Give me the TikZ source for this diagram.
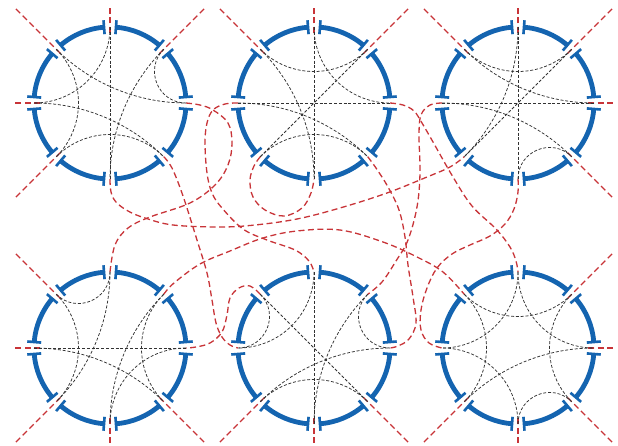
\documentclass[tikz,border=0pt]{standalone}
\usetikzlibrary{calc}
\definecolor{cblue}{RGB}{20,100,176}
\definecolor{cred}{RGB}{200,52,56}
\definecolor{cblk}{RGB}{50,50,50}
\tikzset{
  ring/.style={cblue, line width=4.8pt},
  tickbar/.style={cblue, line width=2.6pt},
  redl/.style={cred, line width=1.3pt, dash pattern=on 6pt off 3.5pt},
  blkl/.style={cblk, line width=0.75pt, dash pattern=on 3pt off 1.8pt},
}
\newcommand\geo[3]{%
  \pgfmathsetmacro\gdif{abs(#2-#3)}%
  \pgfmathsetmacro\gdif{\gdif>180 ? 360-\gdif : \gdif}%
  \pgfmathsetmacro\gfac{\gdif<50 ? 0.369 : (\gdif<100 ? 0.552 : (\gdif<150 ? 0.640 : 0.667))}%
  \draw[blkl] (#1-#2) .. controls ($(#1-#2)!\gfac!(#1)$) and ($(#1-#3)!\gfac!(#1)$) .. (#1-#3);%
}
\newcommand\outl[3]{%
  \coordinate (#1-#2-o) at ($(#1)+(-#2:#3)$);%
  \draw[redl, shorten <=-6pt] (#1-#2) -- (#1-#2-o);%
}
\begin{document}
\begin{tikzpicture}[x=1pt,y=-1pt]
\useasboundingbox (0,0) rectangle (618,446);
\coordinate (c1) at (110,103);
\coordinate (c2) at (314,103);
\coordinate (c3) at (518,103);
\coordinate (c4) at (110,348);
\coordinate (c5) at (314,348);
\coordinate (c6) at (518,348);
\foreach \c in {c1,c2,c3,c4,c5,c6}{
  \foreach \a in {0,45,...,315}{
    \coordinate (\c-\a) at ($(\c)+(-\a:76)$);
  }
}
% straight outer red lines
\outl{c1}{135}{134} \outl{c1}{90}{95} \outl{c1}{45}{134} \outl{c1}{180}{95} \outl{c1}{225}{134}
\outl{c2}{135}{134} \outl{c2}{90}{95} \outl{c2}{45}{134}
\outl{c3}{135}{134} \outl{c3}{90}{95} \outl{c3}{45}{134} \outl{c3}{0}{95} \outl{c3}{315}{134}
\outl{c4}{135}{134} \outl{c4}{180}{95} \outl{c4}{225}{134} \outl{c4}{270}{95} \outl{c4}{315}{134}
\outl{c5}{225}{134} \outl{c5}{270}{95} \outl{c5}{315}{134}
\outl{c6}{45}{134} \outl{c6}{0}{95} \outl{c6}{315}{134} \outl{c6}{270}{95} \outl{c6}{225}{134}
% red connecting curves
\begin{scope}[redl]
\draw plot[smooth, tension=0.6] coordinates {(c1-0) (200,105) (213,110) (228,123) (232,143) (228,165) (215,185) (190,203) (150,217) (128,228) (115,245) (c4-90)};
\draw plot[smooth, tension=0.6] coordinates {(c2-180) (225,104) (213,110) (207,123) (205,143) (207,173) (212,193) (222,208) (243,229) (267,240) (295,250) (309,261) (c5-90)};
\draw plot[smooth, tension=0.6] coordinates {(c2-225) (254,166) (250,180) (253,197) (265,210) (284,216) (302,208) (311,193) (c2-270)};
\draw plot[smooth, tension=0.6] coordinates {(c2-315) (376,168) (388,187) (399,210) (405,237) (408,265) (413,297) (416,323) (409,339) (398,346) (c5-0)};
\draw plot[smooth, tension=0.6] coordinates {(c2-0) (403,105) (414,111) (422,123) (433,142) (453,177) (472,206) (496,229) (510,247) (516,261) (c6-90)};
\draw plot[smooth, tension=0.6] coordinates {(c3-180) (430,105) (421,115) (419,135) (420,173) (417,207) (408,240) (396,261) (382,282) (c5-45)};
\draw plot[smooth, tension=0.6] coordinates {(c3-270) (518,192) (514,209) (505,224) (490,236) (470,245) (452,254) (437,268) (427,288) (421,310) (421,330) (429,343) (c6-180)};
\draw plot[smooth, tension=0.6] coordinates {(c1-270) (111,192) (116,202) (128,211) (145,218) (173,225) (220,227) (255,225) (297,219) (340,208) (387,193) (427,177) (450,167) (c3-225)};
\draw plot[smooth, tension=0.6] coordinates {(c4-45) (174,283) (200,264) (230,251) (263,238) (297,231) (340,230) (383,242) (417,257) (443,272) (c6-135)};
\draw plot[smooth, tension=0.6] coordinates {(c1-315) (172,168) (183,196) (197,240) (207,273) (212,300) (216,323) (222,337) (230,345) (c5-180)};
\draw plot[smooth, tension=0.6] coordinates {(c5-135) (250,286) (239,288) (230,298) (227,315) (222,332) (210,343) (196,347) (c4-0)};
\end{scope}
% black geodesics
\geo{c1}{135}{225} \geo{c1}{45}{0} \geo{c1}{225}{315} \geo{c1}{135}{0}
\geo{c1}{180}{315} \geo{c1}{90}{180} \geo{c1}{45}{270} \geo{c1}{90}{270}
\geo{c2}{135}{45} \geo{c2}{225}{315} \geo{c2}{90}{0} \geo{c2}{90}{270}
\geo{c2}{135}{270} \geo{c2}{45}{225} \geo{c2}{180}{315} \geo{c2}{180}{0}
\geo{c3}{135}{45} \geo{c3}{135}{0} \geo{c3}{180}{0} \geo{c3}{180}{315}
\geo{c3}{90}{270} \geo{c3}{90}{225} \geo{c3}{45}{225} \geo{c3}{270}{315}
\geo{c4}{135}{90} \geo{c4}{180}{0} \geo{c4}{180}{315} \geo{c4}{135}{225}
\geo{c4}{90}{225} \geo{c4}{45}{270} \geo{c4}{45}{315} \geo{c4}{0}{270}
\geo{c5}{135}{180} \geo{c5}{45}{0} \geo{c5}{90}{270} \geo{c5}{90}{180}
\geo{c5}{135}{315} \geo{c5}{45}{270} \geo{c5}{225}{0} \geo{c5}{225}{315}
\geo{c6}{135}{45} \geo{c6}{135}{225} \geo{c6}{90}{180} \geo{c6}{90}{0}
\geo{c6}{45}{315} \geo{c6}{225}{0} \geo{c6}{270}{315} \geo{c6}{270}{180}
% blue rings
\foreach \c in {c1,c2,c3,c4,c5,c6}{
  \foreach \a in {0,45,...,315}{
    \draw[ring] ($(\c)+(-\a-4.5:76)$) arc[start angle=-\a-4.5, end angle=-\a-40.5, radius=76];
    \draw[tickbar] ($(\c)+(-\a-4.5:69)$) -- ($(\c)+(-\a-4.5:83)$);
    \draw[tickbar] ($(\c)+(-\a-40.5:69)$) -- ($(\c)+(-\a-40.5:83)$);
  }
}
\end{tikzpicture}
\end{document}
